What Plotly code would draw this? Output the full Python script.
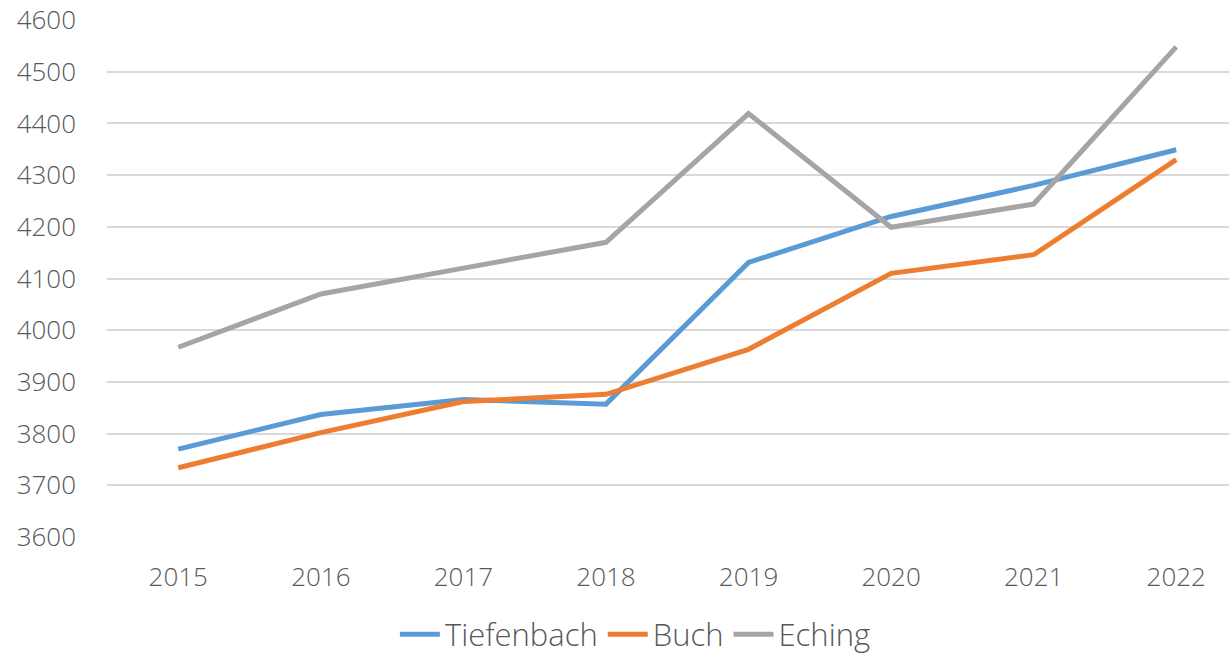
import plotly.graph_objects as go

years = [2015, 2016, 2017, 2018, 2019, 2020, 2021, 2022]
tiefenbach = [3770, 3837, 3866, 3857, 4131, 4220, 4280, 4349]
buch = [3734, 3802, 3862, 3876, 3963, 4110, 4146, 4330]
eching = [3967, 4070, 4120, 4170, 4419, 4199, 4244, 4548]

series = [("Tiefenbach", tiefenbach, "#5B9BD5"),
          ("Buch", buch, "#ED7D31"),
          ("Eching", eching, "#A5A5A5")]

fig = go.Figure()
for name, vals, col in series:
    fig.add_trace(go.Scatter(x=years, y=vals, name=name, mode="lines",
                             line=dict(color=col, width=5)))

font_family = "Open Sans, Noto Sans, sans-serif"
fig.update_layout(
    width=1229, height=654,
    margin=dict(l=107, r=0, t=20, b=117, autoexpand=False),
    plot_bgcolor="white", paper_bgcolor="white",
    font=dict(family=font_family, color="#595959", size=26, weight=300),
    showlegend=True,
    legend=dict(orientation="h", xref="container", yref="paper",
                x=0.517, xanchor="center", y=-0.189, yanchor="middle",
                font=dict(size=31, color="#595959", weight=300),
                itemwidth=40, tracegroupgap=0),
)
fig.update_xaxes(range=[2014.5, 2022.37], tickmode="array", tickvals=years,
                 ticktext=[str(y) for y in years], showgrid=False, zeroline=False,
                 showline=False, ticks="", ticklabelstandoff=22, automargin=False,
                 tickfont=dict(size=26, color="#595959", weight=300))
fig.update_yaxes(range=[3600, 4600], tickmode="array",
                 tickvals=list(range(3600, 4601, 100)),
                 showgrid=True, gridcolor="#D9D9D9", gridwidth=1.5,
                 zeroline=False, showline=False, ticks="", ticklabelstandoff=30,
                 automargin=False,
                 tickfont=dict(size=26, color="#595959", weight=300))

fig.write_html("out.html", config={"displayModeBar": False},
               post_script="document.body.style.margin='0';document.body.style.overflow='hidden';")
